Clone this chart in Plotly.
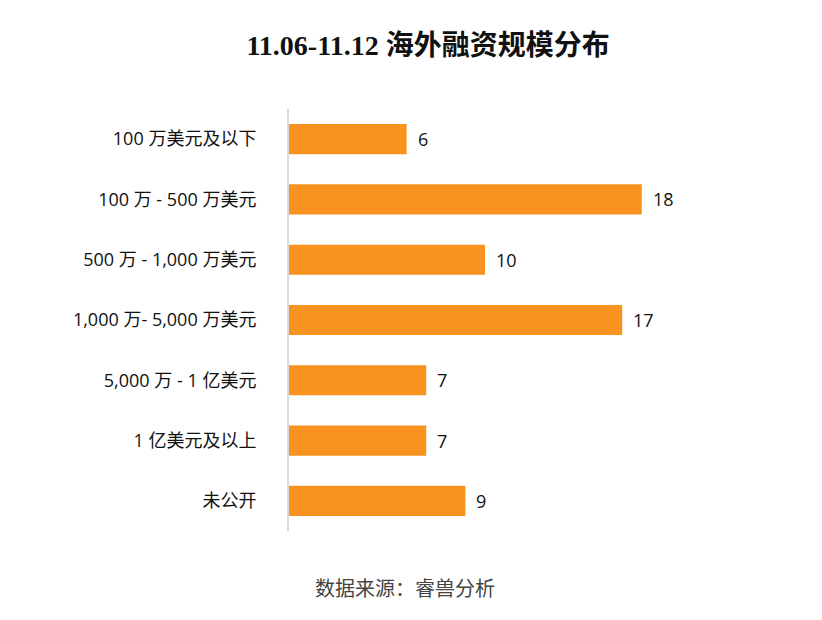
import plotly.graph_objects as go

# Financing scale buckets and number of deals
categories = [
    "100 万美元及以下",
    "100 万 - 500 万美元",
    "500 万 - 1,000 万美元",
    "1,000 万- 5,000 万美元",
    "5,000 万 - 1 亿美元",
    "1 亿美元及以上",
    "未公开",
]
counts = [6, 18, 10, 17, 7, 7, 9]

BAR_COLOR = "#F7931E"
FONT = "Open Sans, Noto Sans CJK SC, sans-serif"

fig = go.Figure(
    go.Bar(
        x=counts,
        y=categories,
        orientation="h",
        width=0.5,
        marker=dict(color=BAR_COLOR, line=dict(width=0)),
        cliponaxis=False,
    )
)

# value labels sit a little right of each bar end
annotations = [
    dict(
        x=v, y=c, xref="x", yref="y",
        text=str(v), showarrow=False,
        xanchor="left", yanchor="middle", xshift=9,
        font=dict(family=FONT, size=18, color="#111111"),
    )
    for c, v in zip(categories, counts)
]
annotations.append(
    dict(
        text="数据来源：睿兽分析",
        x=0.296, xref="paper",
        y=-0.133, yref="paper",
        xanchor="center", yanchor="middle",
        showarrow=False,
        font=dict(family="Noto Sans CJK SC, sans-serif", size=20, color="#444444"),
    )
)

fig.update_layout(
    width=822,
    height=620,
    paper_bgcolor="white",
    plot_bgcolor="white",
    margin=dict(l=281, r=149, t=101, b=97, autoexpand=False),
    showlegend=False,
    title=dict(
        text="<b>11.06-11.12 海外融资规模分布</b>",
        x=0.511,
        xanchor="center",
        y=0.94,
        yanchor="middle",
        font=dict(family="Liberation Serif, Noto Sans CJK SC, serif", size=28, color="#111111"),
    ),
    annotations=annotations,
)

fig.update_xaxes(range=[0, 20], visible=False)
fig.update_yaxes(
    autorange="reversed",
    automargin=False,
    showline=True,
    linecolor="#D9D9D9",
    linewidth=2,
    ticks="",
    ticklabelstandoff=27,
    tickfont=dict(family=FONT, size=18, color="#111111"),
    showgrid=False,
)

fig.write_html("out.html")
